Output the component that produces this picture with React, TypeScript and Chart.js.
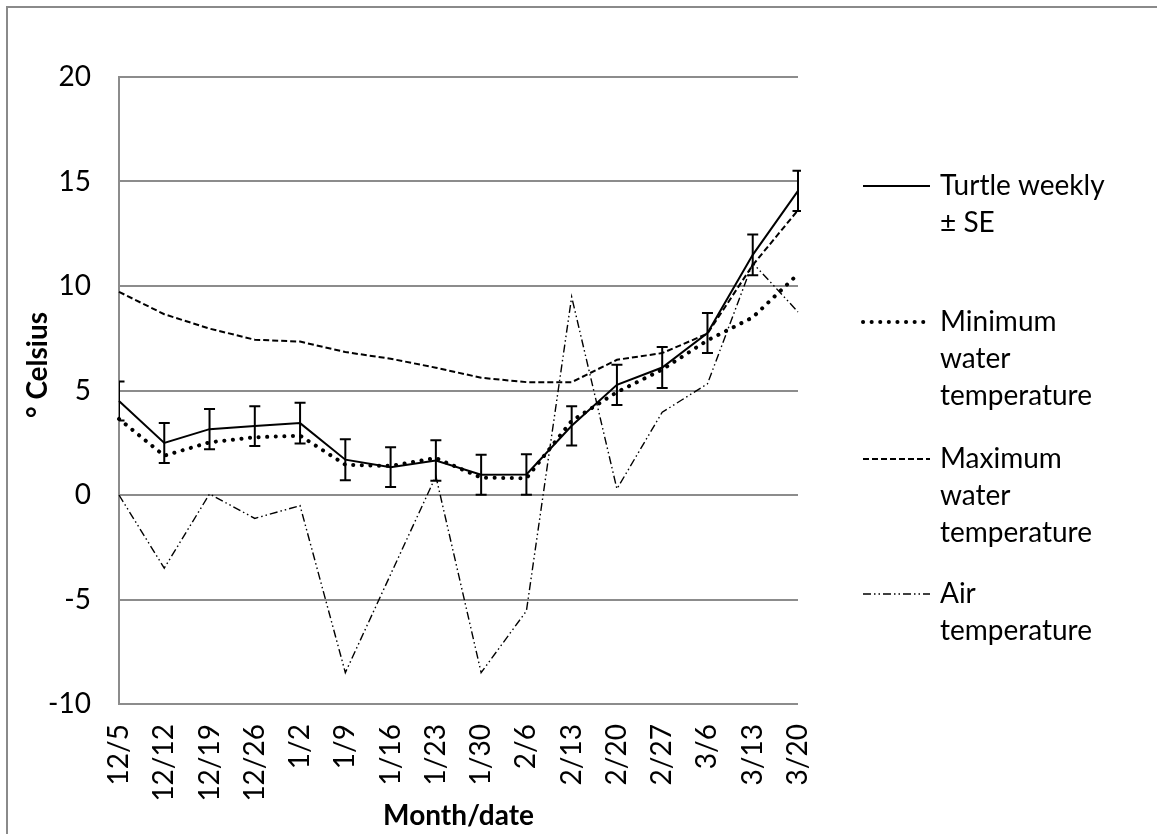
import React, { useEffect, useRef } from 'react';
import { Chart, registerables } from 'chart.js';

Chart.register(...registerables);

const dates = ['12/5', '12/12', '12/19', '12/26', '1/2', '1/9', '1/16', '1/23', '1/30', '2/6', '2/13', '2/20', '2/27', '3/6', '3/13', '3/20'];
const turtleWeekly = [4.5, 2.49, 3.15, 3.3, 3.44, 1.69, 1.33, 1.65, 0.97, 0.98, 3.31, 5.27, 6.1, 7.75, 11.49, 14.55];
const turtleSE = [0.93, 0.96, 0.96, 0.95, 0.97, 0.98, 0.95, 0.97, 0.96, 0.97, 0.94, 0.96, 0.98, 0.96, 0.98, 0.96];
const minWater = [3.64, 1.88, 2.52, 2.76, 2.84, 1.45, 1.39, 1.77, 0.83, 0.8, 3.55, 4.92, 6.0, 7.4, 8.5, 10.57];
const maxWater = [9.72, 8.65, 7.96, 7.43, 7.34, 6.84, 6.52, 6.09, 5.61, 5.4, 5.4, 6.47, 6.79, 7.72, 11.0, 13.63];
const airTemp = [0, -3.5, 0.05, -1.12, -0.51, -8.5, -3.8, 0.9, -8.5, -5.55, 9.48, 0.29, 3.96, 5.32, 11.1, 8.76];

const yMin = -10;
const yMax = 20;
const yStep = 5;

const legendLabels = [
  ['Turtle weekly', '± SE'],
  ['Minimum', 'water', 'temperature'],
  ['Maximum', 'water', 'temperature'],
  ['Air', 'temperature'],
];
const yTitle = '° Celsius';
const xTitle = 'Month/date';

const FONT = 'Lato, "Open Sans", sans-serif';
const FONT_SIZE = 28;
const GRID = '#8c8c8c';

const errorBarPlugin = {
  id: 'errorBars',
  afterDatasetsDraw(chart: any) {
    const meta = chart.getDatasetMeta(0);
    const y = chart.scales.y;
    const area = chart.chartArea;
    const ctx = chart.ctx;
    ctx.save();
    ctx.beginPath();
    ctx.rect(area.left, area.top - 20, area.right - area.left + 3, area.bottom - area.top + 40);
    ctx.clip();
    ctx.strokeStyle = '#000';
    ctx.lineWidth = 2;
    meta.data.forEach((pt: any, i: number) => {
      const x = pt.x;
      const top = y.getPixelForValue(turtleWeekly[i] + turtleSE[i]);
      const bot = y.getPixelForValue(turtleWeekly[i] - turtleSE[i]);
      ctx.beginPath();
      ctx.moveTo(x, top);
      ctx.lineTo(x, bot);
      ctx.moveTo(x - 5.5, top);
      ctx.lineTo(x + 5.5, top);
      ctx.moveTo(x - 5.5, bot);
      ctx.lineTo(x + 5.5, bot);
      ctx.stroke();
    });
    ctx.restore();
  },
};

const legendY = [186, 322, 459, 594];
const LEGEND_LINE_X0 = 863;
const LEGEND_LINE_X1 = 930;
const LEGEND_TEXT_X = 940;
const LEGEND_LINE_H = 37;

const decorPlugin = {
  id: 'decor',
  afterDraw(chart: any) {
    const ctx = chart.ctx;
    const ds = chart.data.datasets;
    ctx.save();
    ds.forEach((d: any, i: number) => {
      const ly = legendY[i];
      ctx.save();
      ctx.strokeStyle = d.borderColor;
      ctx.lineWidth = d.borderWidth;
      ctx.lineCap = d.borderCapStyle || 'butt';
      ctx.setLineDash(d.borderDash || []);
      ctx.beginPath();
      ctx.moveTo(LEGEND_LINE_X0, ly);
      ctx.lineTo(LEGEND_LINE_X1, ly);
      ctx.stroke();
      ctx.restore();
      ctx.fillStyle = '#000';
      ctx.font = `${FONT_SIZE}px ${FONT}`;
      ctx.textBaseline = 'middle';
      ctx.textAlign = 'left';
      legendLabels[i].forEach((t, k) => {
        ctx.fillText(t, LEGEND_TEXT_X, ly + k * LEGEND_LINE_H);
      });
    });
    // y axis title
    ctx.translate(38, 365);
    ctx.rotate(-Math.PI / 2);
    ctx.font = `bold ${FONT_SIZE}px ${FONT}`;
    ctx.textAlign = 'center';
    ctx.textBaseline = 'middle';
    ctx.fillStyle = '#000';
    ctx.fillText(yTitle, 0, 0);
    ctx.restore();
  },
};

export default function App() {
  const ref = useRef<HTMLCanvasElement>(null);

  useEffect(() => {
    if (!ref.current) return;
    const chart = new Chart(ref.current, {
      type: 'line',
      data: {
        labels: dates,
        datasets: [
          {
            label: 'Turtle weekly ± SE',
            data: turtleWeekly,
            borderColor: '#000',
            borderWidth: 2,
            pointRadius: 0,
            tension: 0,
            fill: false,
          },
          {
            label: 'Minimum water temperature',
            data: minWater,
            borderColor: '#000',
            borderWidth: 4,
            borderDash: [0.1, 8.5],
            borderCapStyle: 'round',
            pointRadius: 0,
            tension: 0,
            fill: false,
          },
          {
            label: 'Maximum water temperature',
            data: maxWater,
            borderColor: '#000',
            borderWidth: 2,
            borderDash: [6, 3],
            pointRadius: 0,
            tension: 0,
            fill: false,
          },
          {
            label: 'Air temperature',
            data: airTemp,
            borderColor: '#000',
            borderWidth: 1.4,
            borderDash: [8, 3, 1.5, 3, 1.5, 3],
            pointRadius: 0,
            tension: 0,
            fill: false,
          },
        ],
      } as any,
      options: {
        animation: false,
        responsive: true,
        maintainAspectRatio: false,
        layout: { padding: { top: 77, right: 359, bottom: 0, left: 0 } },
        plugins: {
          legend: { display: false },
          tooltip: { enabled: false },
        },
        scales: {
          x: {
            type: 'category',
            offset: false,
            grid: { display: false, drawTicks: false },
            border: { display: false },
            ticks: {
              autoSkip: false,
              maxRotation: 90,
              minRotation: 90,
              padding: 20,
              color: '#000',
              font: { family: FONT, size: FONT_SIZE },
            },
            title: {
              display: true,
              text: xTitle,
              color: '#000',
              font: { family: FONT, size: FONT_SIZE, weight: 'bold' },
              padding: { top: 0, bottom: 1 },
            },
            afterFit: (s: any) => {
              s.height = 130;
            },
          },
          y: {
            min: yMin,
            max: yMax,
            grid: { color: GRID, lineWidth: 2, drawTicks: false },
            border: { display: true, color: GRID, width: 2 },
            ticks: {
              stepSize: yStep,
              padding: 28,
              color: '#000',
              font: { family: FONT, size: FONT_SIZE },
            },
            afterFit: (s: any) => {
              s.width = 119;
            },
          },
        },
      } as any,
      plugins: [errorBarPlugin, decorPlugin],
    });
    return () => chart.destroy();
  }, []);

  return (
    <div style={{ position: 'absolute', left: 0, top: 0, width: 1157, height: 834, overflow: 'hidden', background: '#fff' }}>
      <div
        style={{
          position: 'absolute',
          left: 6,
          top: 6,
          width: 1170,
          height: 850,
          borderLeft: '2px solid #8a8a8a',
          borderTop: '2px solid #8a8a8a',
        }}
      />
      <canvas ref={ref} style={{ position: 'absolute', left: 0, top: 0, width: 1157, height: 834 }} />
    </div>
  );
}
